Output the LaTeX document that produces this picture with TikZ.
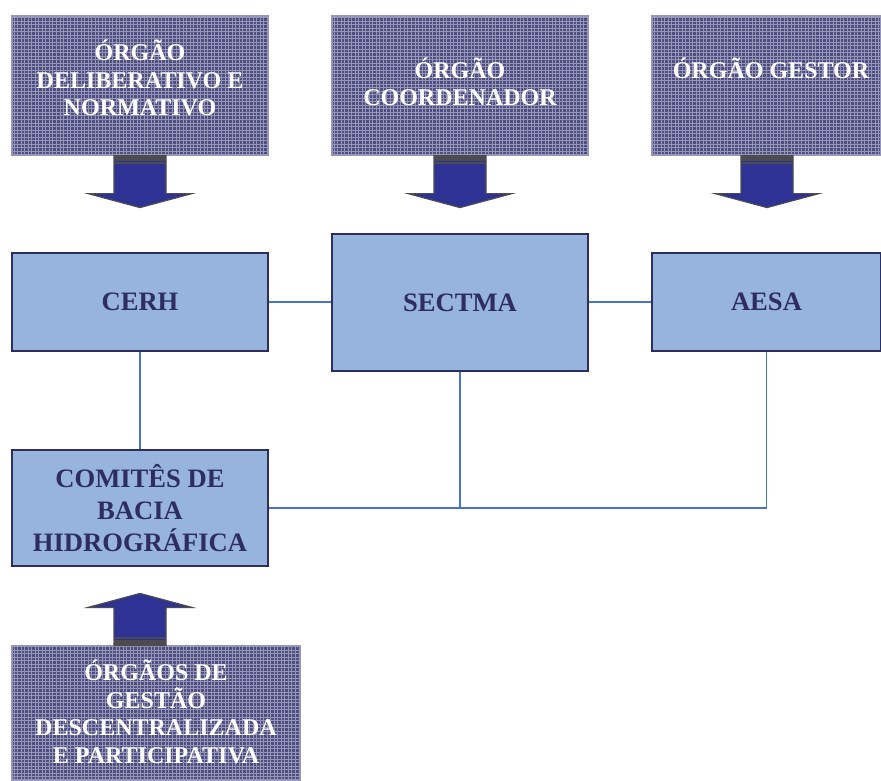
\documentclass[tikz,border=0pt]{standalone}
\usepackage{fontspec}
\setmainfont{Liberation Serif}
\usepackage{xcolor}
\usepackage{tikz}
\usetikzlibrary{calc,patterns,positioning}

\definecolor{darkfill}{RGB}{78,78,128}
\definecolor{gridcol}{RGB}{150,150,185}
\definecolor{lightfill}{RGB}{150,180,220}
\definecolor{navy}{RGB}{45,45,95}
\definecolor{linkcol}{RGB}{70,115,195}
\definecolor{arrowfill}{RGB}{45,50,148}
\definecolor{arrowedge}{RGB}{75,75,80}

% big block arrow: #1 = start point, #2 = 1 (down) or -1 (up)
\newcommand{\blockarrow}[2]{%
  \filldraw[fill=arrowfill, draw=arrowedge, line width=1pt]
    ($(#1)+(-26,0)$) -- ++(0,{(#2)*38}) -- ++(-26,0) -- ++(52,{(#2)*14})
    -- ++(52,{-(#2)*14}) -- ++(-26,0) -- ++(0,{-(#2)*38}) -- cycle;
  \fill[arrowedge] ($(#1)+(-26,0)$) rectangle ($(#1)+(26,{(#2)*8})$);
  \draw[arrowfill, line width=0.8pt] ($(#1)+(-26,{(#2)*6})$) -- ($(#1)+(26,{(#2)*6})$);
}

\begin{document}
\begin{tikzpicture}[x=0.03cm, y=-0.03cm]
	\tikzstyle{darkbox} = [rectangle, draw = gridcol, line width = 1pt,
	  preaction = {fill = darkfill}, pattern = grid, pattern color = gridcol]
	\tikzstyle{darktext} = [text = white, align = center, inner sep = 0pt,
	  font = \fontsize{20.5}{23.5}\selectfont\bfseries]
	\tikzstyle{lightbox} = [rectangle, draw = navy, line width = 1.3pt, fill = lightfill,
	  text = navy, align = center, font = \fontsize{22.7}{27}\selectfont\bfseries]
	\tikzstyle{link} = [draw = linkcol, line width = 1.3pt]
\useasboundingbox (0,0) rectangle (881,780);

\node[darkbox, minimum width = 7.68cm, minimum height = 4.17cm] (delib) at (140, 85.5) {};
\node[darkbox, minimum width = 7.68cm, minimum height = 4.17cm] (coord) at (460, 85.5) {};
\node[darkbox, minimum width = 6.87cm, minimum height = 4.17cm] (gestor) at (766.5, 85.5) {};
\node[darkbox, minimum width = 8.64cm, minimum height = 4.02cm] (partic) at (156, 713) {};
\node[darktext] (delibtxt) at (140, 78) {ÓRGÃO\\DELIBERATIVO E\\NORMATIVO};
\node[darktext] (coordtxt) at (460, 82) {ÓRGÃO\\COORDENADOR};
\node[darktext] (gestortxt) at (771, 68) {ÓRGÃO GESTOR};
\node[darktext] (partictxt) at (156, 712) {ÓRGÃOS DE\\GESTÃO\\DESCENTRALIZADA\\E PARTICIPATIVA};

\node[lightbox, minimum width = 7.68cm, minimum height = 2.94cm] (cerh) at (140, 302) {CERH};
\node[lightbox, minimum width = 7.68cm, minimum height = 4.11cm] (sectma) at (460, 302.5) {SECTMA};
\node[lightbox, minimum width = 6.87cm, minimum height = 2.94cm] (aesa) at (766.5, 302) {AESA};
\node[lightbox, minimum width = 7.68cm, minimum height = 3.48cm] (comites) at (140, 508) {COMITÊS DE\\BACIA\\HIDROGRÁFICA};

	\path[link] (cerh.east) -- (cerh.east -| sectma.west);
	\path[link] (aesa.west -| sectma.east) -- (aesa.west);
	\path[link] (cerh) -- (comites);
	\path[link] (comites.east) -| (aesa.south);
	\path[link] (sectma.south) -- (sectma.south |- comites.east);

\blockarrow{delib.south}{1}
\blockarrow{coord.south}{1}
\blockarrow{gestor.south -| 767,0}{1}
\blockarrow{partic.north -| comites.south}{-1}
	\end{tikzpicture}
\end{document}
